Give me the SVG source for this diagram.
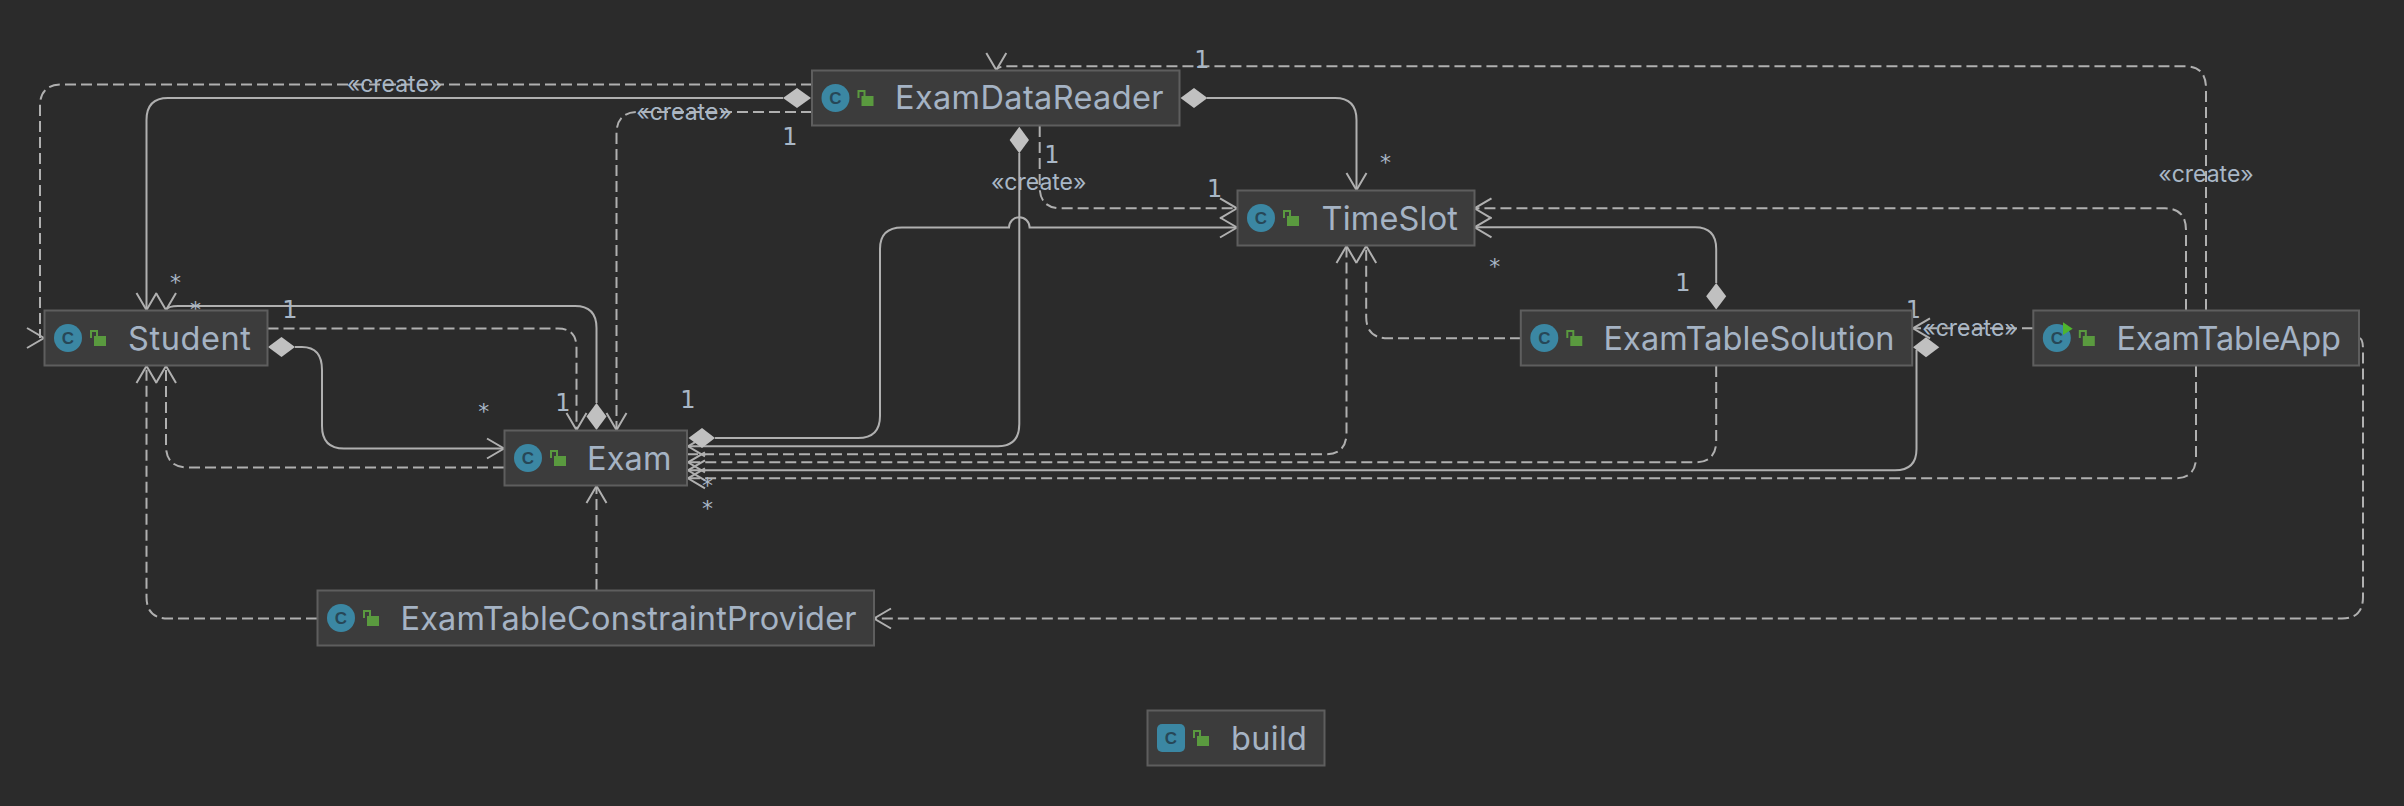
<svg xmlns="http://www.w3.org/2000/svg" width="2404" height="806" viewBox="0 0 2404 806">
<style>
.bg{fill:#2b2b2b}
.box{fill:#3c3c3c;stroke:#5e5e5e;stroke-width:2}
.name{font-family:Inter,"Liberation Sans",sans-serif;font-size:32.5px;fill:#a5b3c4}
.lab{font-family:"DejaVu Sans",sans-serif;font-size:24px;fill:#a9b7c6;text-anchor:middle}
.st{font-family:"DejaVu Sans",sans-serif;font-size:22px;fill:#a9b7c6;text-anchor:middle}
.cr{font-family:Inter,"Liberation Sans",sans-serif;font-size:23px;fill:#a9b7c6;text-anchor:middle}
.ci{fill:#3b87a3}
.ic{font-family:"Liberation Sans",sans-serif;font-size:17px;font-weight:bold;fill:#274757;text-anchor:middle}
.lk{fill:#5a9a3f}
.sh{fill:none;stroke:#5a9a3f;stroke-width:2}
.s,.d,.a{fill:none;stroke:#b0b0b0;stroke-width:2}
.d{stroke-dasharray:11 5}
.m{fill:#c0c0c0}
</style>
<rect class="bg" width="2404" height="806"/>
<g id="connectors">
<path class="d" d="M812 84.500H62Q40 84.500 40 106V338"/>
<path class="a" d="M27 328L44 338L27 348"/>
<path class="s" d="M783 98H168Q146.500 98 146.500 120V310"/>
<path class="a" d="M136.500 293L146.500 310L156.500 293"/>
<path class="s" d="M596.500 403V328Q596.500 306 575 306H178Q168 306 166 310"/>
<path class="a" d="M156 293L166 310L176 293"/>
<path class="d" d="M267.500 328.500H558Q576.500 328.500 576.500 348V430"/>
<path class="a" d="M566.500 413L576.500 430L586.500 413"/>
<path class="d" d="M812 112H638Q616.500 112 616.500 134V430"/>
<path class="a" d="M606.500 413L616.500 430L626.500 413"/>
<path class="s" d="M295 347H302Q322 347 322 370V426Q322 448.500 344 448.500H504"/>
<path class="a" d="M487 438.500L504 448.500L487 458.500"/>
<path class="d" d="M504 467.500H188Q166 467.500 166 446V366"/>
<path class="a" d="M156 383L166 366L176 383"/>
<path class="d" d="M317 618.500H168Q146.500 618.500 146.500 597V366"/>
<path class="a" d="M136.500 383L146.500 366L156.500 383"/>
<path class="d" d="M596.500 590V486"/>
<path class="a" d="M586.500 503L596.500 486L606.500 503"/>
<path class="d" d="M2359 338Q2363 338 2363 350V597Q2363 618.500 2342 618.500H874"/>
<path class="a" d="M891 608.500L874 618.500L891 628.500"/>
<path class="s" d="M715 438H858Q880 438 880 416V249Q880 227.500 902 227.500H1009A10.300 10.300 0 0 1 1029.600 227.500H1237"/>
<path class="a" d="M1220 217.500L1237 227.500L1220 237.500"/>
<path class="s" d="M1019.300 153V424Q1019.300 446.300 998 446.300H688"/>
<path class="a" d="M705 436.300L688 446.300L705 456.300"/>
<path class="d" d="M687 454.300H1325Q1346.500 454.300 1346.500 433V246"/>
<path class="a" d="M1336.500 263L1346.500 246L1356.500 263"/>
<path class="d" d="M1716.200 366V441Q1716.200 462.300 1695 462.300H688"/>
<path class="a" d="M705 452.300L688 462.300L705 472.300"/>
<path class="s" d="M1916.500 350V449Q1916.500 470.300 1895 470.300H688"/>
<path class="a" d="M705 460.300L688 470.300L705 480.300"/>
<path class="d" d="M2196 366V457Q2196 478.300 2175 478.300H688"/>
<path class="a" d="M705 468.300L688 478.300L705 488.300"/>
<path class="d" d="M2033 328.300H1913"/>
<path class="a" d="M1930 318.300L1913 328.300L1930 338.300"/>
<path class="d" d="M2186 310V230Q2186 208.300 2165 208.300H1474.500"/>
<path class="a" d="M1491.500 198.300L1474.500 208.300L1491.500 218.300"/>
<path class="d" d="M2206 310V88Q2206 66.300 2185 66.300H1008Q998 66.300 996.300 70"/>
<path class="a" d="M986.300 53L996.300 70L1006.300 53"/>
<path class="s" d="M1716.200 283V249Q1716.200 227.300 1695 227.300H1474.500"/>
<path class="a" d="M1491.500 217.300L1474.500 227.300L1491.500 237.300"/>
<path class="d" d="M1521 338.300H1388Q1366.200 338.300 1366.200 317V246"/>
<path class="a" d="M1356.200 263L1366.200 246L1376.200 263"/>
<path class="s" d="M1207 98H1335Q1356.500 98 1356.500 120V190"/>
<path class="a" d="M1346.500 173L1356.500 190L1366.500 173"/>
<path class="d" d="M1039.700 126V187Q1039.700 208.300 1061 208.300H1237"/>
<path class="a" d="M1220 198.300L1237 208.300L1220 218.300"/>
<polygon class="m" points="783,98 797,88 811,98 797,108"/>
<polygon class="m" points="1180.500,98 1194,88 1207.500,98 1194,108"/>
<polygon class="m" points="1019.300,126.700 1029,140 1019.300,153.300 1009.600,140"/>
<polygon class="m" points="268,347 281.500,337 295,347 281.500,357"/>
<polygon class="m" points="596.500,403 606.500,416.500 596.500,430 586.500,416.500"/>
<polygon class="m" points="688.500,438 702,428 715,438 702,448"/>
<polygon class="m" points="1716.200,283 1726.200,296.200 1716.200,309.500 1706.200,296.200"/>
<polygon class="m" points="1913,347.300 1926,337.300 1939.300,347.300 1926,357.300"/>
</g>
<g id="connector-labels">
<text class="cr" x="394.500" y="92">«create»</text>
<text class="cr" x="684" y="120">«create»</text>
<text class="cr" x="1038.700" y="190">«create»</text>
<text class="cr" x="2206" y="182">«create»</text>
<text class="cr" x="1970" y="336">«create»</text>
<text class="st" x="175.500" y="290">*</text>
<text class="st" x="195.400" y="317">*</text>
<text class="lab" x="290" y="318">1</text>
<text class="lab" x="790" y="145">1</text>
<text class="st" x="483.700" y="419">*</text>
<text class="lab" x="563" y="411">1</text>
<text class="lab" x="687.800" y="408">1</text>
<text class="st" x="707.600" y="493">*</text>
<text class="st" x="707.600" y="516">*</text>
<text class="lab" x="1202" y="68">1</text>
<text class="lab" x="1052" y="163">1</text>
<text class="lab" x="1214.700" y="197">1</text>
<text class="st" x="1385.600" y="170">*</text>
<text class="st" x="1494.800" y="274">*</text>
<text class="lab" x="1683" y="291">1</text>
<text class="lab" x="1913.400" y="318">1</text>
</g>
<g id="node-student"><rect class="box" x="44.500" y="310.500" width="223" height="55"/><circle class="ci" cx="68" cy="338" r="14"/><text class="ic" x="68" y="344">C</text><path class="sh" d="M91 338V331H97V336"/><rect class="lk" x="94" y="336" width="12" height="10"/><text class="name" x="128" y="350" textLength="123">Student</text></g>
<g id="node-exam"><rect class="box" x="504.500" y="430.500" width="182.500" height="55"/><circle class="ci" cx="528" cy="458" r="14"/><text class="ic" x="528" y="464">C</text><path class="sh" d="M551 458V451H557V456"/><rect class="lk" x="554" y="456" width="12" height="10"/><text class="name" x="587" y="470" textLength="84.500">Exam</text></g>
<g id="node-examtableconstraintprovider"><rect class="box" x="317.500" y="590.500" width="556.500" height="55"/><circle class="ci" cx="341" cy="618" r="14"/><text class="ic" x="341" y="624">C</text><path class="sh" d="M364 618V611H370V616"/><rect class="lk" x="367" y="616" width="12" height="10"/><text class="name" x="400.500" y="630" textLength="456">ExamTableConstraintProvider</text></g>
<g id="node-examdatareader"><rect class="box" x="812" y="70.500" width="367.500" height="55"/><circle class="ci" cx="835.500" cy="98" r="14"/><text class="ic" x="835.500" y="104">C</text><path class="sh" d="M858.500 98V91H864.500V96"/><rect class="lk" x="861.500" y="96" width="12" height="10"/><text class="name" x="895" y="109" textLength="268.500">ExamDataReader</text></g>
<g id="node-timeslot"><rect class="box" x="1237.500" y="190.500" width="237" height="55"/><circle class="ci" cx="1261" cy="218" r="14"/><text class="ic" x="1261" y="224">C</text><path class="sh" d="M1284 218V211H1290V216"/><rect class="lk" x="1287" y="216" width="12" height="10"/><text class="name" x="1321.500" y="230" textLength="136.500">TimeSlot</text></g>
<g id="node-examtablesolution"><rect class="box" x="1520.800" y="310.500" width="391.400" height="55"/><circle class="ci" cx="1544.300" cy="338" r="14"/><text class="ic" x="1544.300" y="344">C</text><path class="sh" d="M1567.300 338V331H1573.300V336"/><rect class="lk" x="1570.300" y="336" width="12" height="10"/><text class="name" x="1603.500" y="350" textLength="291">ExamTableSolution</text></g>
<g id="node-examtableapp"><rect class="box" x="2033.300" y="310.500" width="325.700" height="55"/><circle class="ci" cx="2056.800" cy="338" r="14"/><text class="ic" x="2056.800" y="344">C</text><polygon points="2063,322.300 2072.700,328.700 2063,335" fill="#4fb52e"/><path class="sh" d="M2079.800 338V331H2085.800V336"/><rect class="lk" x="2082.800" y="336" width="12" height="10"/><text class="name" x="2116.500" y="350" textLength="224.500">ExamTableApp</text></g>
<g id="node-build"><rect class="box" x="1147.500" y="710.500" width="177" height="55"/><rect class="ci" x="1157" y="724" width="28" height="28" rx="5"/><text class="ic" x="1171" y="744">C</text><path class="sh" d="M1194 738V731H1200V736"/><rect class="lk" x="1197" y="736" width="12" height="10"/><text class="name" x="1231" y="750" textLength="76">build</text></g>
</svg>
